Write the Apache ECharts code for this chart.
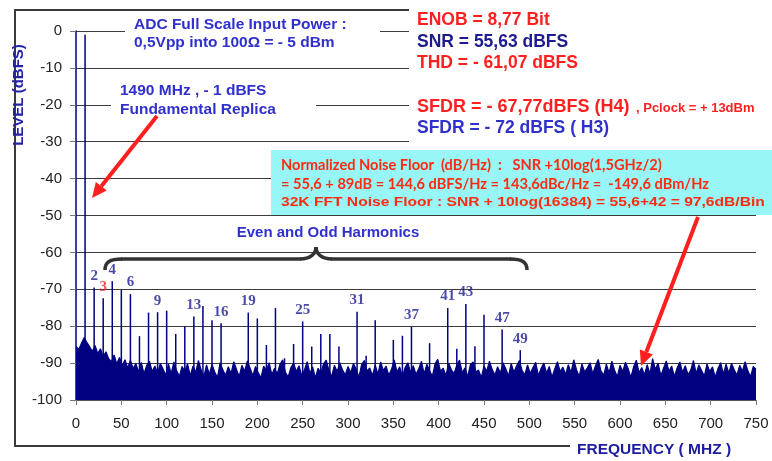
<!DOCTYPE html>
<html>
<head>
<meta charset="utf-8">
<script src="https://cdn.jsdelivr.net/npm/echarts@6/dist/echarts.min.js"></script>
<style>
  html, body { margin: 0; padding: 0; background: #fff; }
  #fft { width: 772px; height: 461px; }
</style>
</head>
<body>
<div id="fft"></div>
<script>
// spectre FFT : bruit (pas de 3 MHz) + raies
var noiseStep = 3;
var noiseLevels = [
  -85.5,-86.3,-84.6,-83.1,-84.4,-85.6,-86.8,-85.2,-87.4,-86.1,
  -88.3,-86.9,-88.8,-89.6,-87.8,-90.2,-88.5,-90.7,-89.1,-91.3,
  -89.2,-91.5,-90.1,-92.4,-89.8,-92.9,-90.6,-89.5,-92.3,-90.8,
  -92.7,-90.1,-91.6,-93.3,-90.3,-92.8,-89.7,-92.1,-93.6,-90.9,
  -92.2,-90.2,-93.4,-90.8,-92.5,-89.3,-91.8,-93.7,-90.5,-93.0,
  -90.4,-92.4,-93.9,-89.9,-91.9,-93.3,-91.0,-92.8,-89.6,-91.7,
  -93.6,-90.6,-92.2,-89.4,-91.3,-93.4,-90.9,-92.6,-94.0,-90.8,
  -92.0,-89.9,-93.1,-91.4,-92.9,-90.3,-89.1,-92.5,-93.8,-91.2,
  -90.0,-92.3,-90.7,-93.4,-91.8,-89.6,-92.8,-91.0,-94.0,-91.4,
  -92.7,-90.2,-89.2,-92.0,-93.6,-90.6,-92.3,-89.9,-91.9,-93.2,
  -90.9,-92.6,-90.1,-91.6,-93.8,-90.4,-89.3,-92.2,-91.3,-93.4,
  -90.5,-93.0,-89.7,-92.0,-90.8,-93.3,-91.7,-89.1,-92.4,-91.0,
  -93.7,-91.2,-89.9,-92.5,-90.7,-93.1,-91.5,-89.5,-92.9,-90.3,
  -92.1,-93.6,-90.2,-89.0,-92.2,-91.4,-93.4,-90.0,-91.8,-92.8,
  -90.6,-89.2,-92.6,-91.3,-93.7,-90.4,-89.7,-92.4,-91.9,-93.9,
  -90.8,-92.2,-89.5,-91.7,-93.3,-91.0,-92.7,-89.9,-91.5,-93.5,
  -90.1,-92.5,-90.7,-89.3,-92.0,-93.2,-90.5,-92.8,-91.2,-89.8,
  -93.4,-91.4,-90.0,-92.7,-90.9,-93.8,-91.6,-89.6,-92.3,-91.1,
  -93.1,-90.4,-92.6,-89.1,-91.8,-93.6,-90.2,-92.4,-91.3,-89.9,
  -92.9,-90.7,-89.0,-92.1,-93.3,-90.3,-92.7,-89.5,-91.9,-93.7,
  -90.6,-92.3,-89.8,-91.5,-93.9,-91.0,-89.2,-92.6,-91.2,-93.2,
  -90.4,-92.9,-88.8,-91.7,-90.0,-93.4,-91.4,-89.4,-92.2,-90.8,
  -93.6,-91.3,-89.7,-92.5,-90.7,-93.1,-91.9,-89.3,-92.8,-90.5,
  -92.0,-93.5,-90.2,-92.3,-91.0,-93.8,-91.5,-89.9,-93.0,-90.3,
  -92.7,-90.1,-91.8,-93.3,-90.6,-92.2,-89.6,-92.1,-93.7,-90.9,
  -91.7
];
var fundFreq = 10;      // 1490 MHz replie a 10 MHz
var fundLevel = -1;
var harmonicOrder = [2,3,4,5,6,7,8,9,10,11,12,13,14,15,16,19,20,21,22,23,24,25,26,27,28,29,31,32,33,35,36,37,39,41,42,43,44,45,47,49];
var harmonicLevel = [-69.5,-72.4,-67.8,-70.2,-71.3,-82.7,-76.3,-76.2,-75.8,-82.1,-80.0,-77.4,-74.5,-78.4,-79.2,-76.3,-77.9,-85.1,-75.1,-88.7,-84.8,-78.7,-85.5,-82.1,-82.1,-85.5,-76.1,-88.0,-78.4,-83.7,-82.6,-80.2,-84.6,-75.1,-86.1,-74.0,-85.4,-76.9,-80.9,-86.5];
var taggedOrders = [2,3,4,6,9,13,16,19,25,31,37,41,43,47,49];
var xTickStep = 50;
var yTickStep = 10;

var NAVY = '#000080';
var RED = '#ff1f1f';
var BLUE = '#3030cc';
var DARKBLUE = '#1c1c90';

var noiseData = noiseLevels.map(function (v, i) { return [i * noiseStep, v]; });
var lineData = [[fundFreq, fundLevel]].concat(harmonicOrder.map(function (n, i) {
  return [n * fundFreq, harmonicLevel[i]];
}));
var tagData = taggedOrders.map(function (n) {
  var lv = harmonicLevel[harmonicOrder.indexOf(n)];
  return {
    value: [n * fundFreq, lv, n],
    label: { color: n === 3 ? RED : DARKBLUE }
  };
});

var chart = echarts.init(document.getElementById('fft'));

function arrow(x1, y1, x2, y2) {
  var a = Math.atan2(y2 - y1, x2 - x1);
  var L = 15, W = 7;
  var bx = x2 - L * Math.cos(a), by = y2 - L * Math.sin(a);
  return [
    { type: 'line', z: 110, shape: { x1: x1, y1: y1, x2: bx, y2: by },
      style: { stroke: RED, lineWidth: 4 } },
    { type: 'polygon', z: 110, shape: { points: [
        [x2, y2],
        [bx + W * Math.sin(a), by - W * Math.cos(a)],
        [bx - W * Math.sin(a), by + W * Math.cos(a)]
      ] }, style: { fill: RED } }
  ];
}

function txt(x, y, s, size, color, extra) {
  var o = { type: 'text', z: 120, x: x, y: y,
    style: { text: s, fill: color, font: 'bold ' + size + 'px "Liberation Sans", Arial, sans-serif',
      verticalAlign: 'middle' } };
  if (extra) { for (var k in extra) o.style[k] = extra[k]; }
  return o;
}

function curve(x1, y1, c1x, c1y, c2x, c2y, x2, y2) {
  return { type: 'bezierCurve', z: 110,
    shape: { x1: x1, y1: y1, cpx1: c1x, cpy1: c1y, cpx2: c2x, cpy2: c2y, x2: x2, y2: y2 },
    style: { stroke: '#333', lineWidth: 3.5, fill: null } };
}
function seg(x1, y1, x2, y2) {
  return { type: 'line', z: 110, shape: { x1: x1, y1: y1, x2: x2, y2: y2 },
    style: { stroke: '#333', lineWidth: 3.5 } };
}

var noteFont = 'bold 14.6px Lato, "Open Sans", sans-serif';
var line3 = txt(281, 202, '32K FFT Noise Floor : SNR + 10log(16384) = 55,6+42 = 97,6dB/Bin', 13, '#ff2a10');
line3.scaleX = 1.2;

var graphics = [
  // cadre
  { type: 'polyline', z: 100, shape: { points: [[409, 10], [15, 10], [15, 446], [570, 446]] },
    style: { stroke: '#3a3a3a', lineWidth: 2, fill: null } },
  // fonds blancs des annotations
  { type: 'rect', z: 100, shape: { x: 409, y: 0, width: 363, height: 147 }, style: { fill: '#fff' } },
  { type: 'rect', z: 100, shape: { x: 125, y: 14, width: 255, height: 38 }, style: { fill: '#fff' } },
  { type: 'rect', z: 100, shape: { x: 111, y: 82, width: 205, height: 38 }, style: { fill: '#fff' } },
  { type: 'rect', z: 100, shape: { x: 271, y: 150, width: 501, height: 65 }, style: { fill: '#99f6f6' } },

  txt(134, 25, 'ADC Full Scale Input Power :', 15.5, BLUE),
  txt(134, 43, '0,5Vpp into 100Ω = - 5 dBm', 15.5, BLUE),
  txt(120, 91, '1490 MHz , - 1 dBFS', 15.5, BLUE),
  txt(120, 110, 'Fundamental Replica', 15.5, BLUE),

  txt(417, 20, 'ENOB = 8,77 Bit', 17.5, RED),
  txt(417, 42, 'SNR = 55,63 dBFS', 17.5, DARKBLUE),
  txt(417, 63, 'THD = - 61,07 dBFS', 17.5, RED),
  txt(417, 107, 'SFDR = - 67,77dBFS (H4)', 18, RED),
  txt(636, 108, ', Pclock = + 13dBm', 13, RED),
  txt(417, 128, 'SFDR = - 72 dBFS ( H3)', 17.5, BLUE),

  txt(281, 165, 'Normalized Noise Floor  (dB/Hz)  :   SNR +10log(1,5GHz/2)', 14.6, '#ff2a10', { font: noteFont }),
  txt(281, 184, '= 55,6 + 89dB = 144,6 dBFS/Hz = 143,6dBc/Hz =  -149,6 dBm/Hz', 14.6, '#ff2a10', { font: noteFont }),
  line3,

  txt(328, 233, 'Even and Odd Harmonics', 15, BLUE, { align: 'center' }),
  // accolade
  curve(105, 270, 105, 262, 110, 259, 122, 259),
  seg(121, 259, 301, 259),
  curve(300, 259, 310, 259, 316, 254, 316, 247),
  curve(316, 247, 316, 254, 322, 259, 332, 259),
  seg(331, 259, 511, 259),
  curve(510, 259, 522, 259, 527, 262, 527, 270),

  { type: 'text', z: 120, x: 19, y: 95, rotation: Math.PI / 2,
    style: { text: 'LEVEL (dBFS)', fill: '#2222aa', align: 'center', verticalAlign: 'middle',
      font: 'bold 15px "Liberation Sans", Arial, sans-serif' } },
  txt(577, 450, 'FREQUENCY ( MHZ )', 15.5, '#1c1ca0')
].concat(arrow(157, 116, 92, 198)).concat(arrow(698, 217, 641, 366));

var option = {
  animation: false,
  grid: { left: 76, right: 16, top: 31, bottom: 61 },
  xAxis: {
    type: 'value', min: 0, max: 750, interval: xTickStep,
    axisLine: { show: true, onZero: false, lineStyle: { color: '#555' } },
    axisTick: { show: true, length: 5, lineStyle: { color: '#777' } },
    axisLabel: { color: '#222', fontSize: 15, margin: 16, fontFamily: '"Liberation Sans", Arial' },
    splitLine: { show: false }
  },
  yAxis: {
    type: 'value', min: -100, max: 0, interval: yTickStep,
    axisLine: { show: true, onZero: false, lineStyle: { color: NAVY, width: 1.5 } },
    axisTick: { show: true, length: 6, lineStyle: { color: '#777' } },
    axisLabel: { color: '#222', fontSize: 15, margin: 14, fontFamily: '"Liberation Sans", Arial' },
    splitLine: { show: true, lineStyle: { color: '#3c3c3c', width: 1 } }
  },
  series: [
    {
      type: 'line', data: noiseData, showSymbol: false, symbol: 'none',
      lineStyle: { color: NAVY, width: 1.2 },
      areaStyle: { color: NAVY, opacity: 1, origin: 'start' },
      z: 3
    },
    {
      type: 'custom', data: lineData, z: 4,
      renderItem: function (params, api) {
        var top = api.coord([api.value(0), api.value(1)]);
        var base = api.coord([api.value(0), -100]);
        return { type: 'line', shape: { x1: top[0], y1: top[1], x2: base[0], y2: base[1] },
          style: { stroke: NAVY, lineWidth: 1.5 } };
      }
    },
    {
      type: 'scatter', data: tagData, symbolSize: 0, z: 5,
      label: { show: true, position: 'top', distance: 4,
        formatter: function (p) { return p.value[2]; },
        fontFamily: '"Liberation Serif", "Times New Roman", serif', fontWeight: 'bold', fontSize: 15 }
    }
  ],
  graphic: graphics
};
chart.setOption(option);
</script>
</body>
</html>
